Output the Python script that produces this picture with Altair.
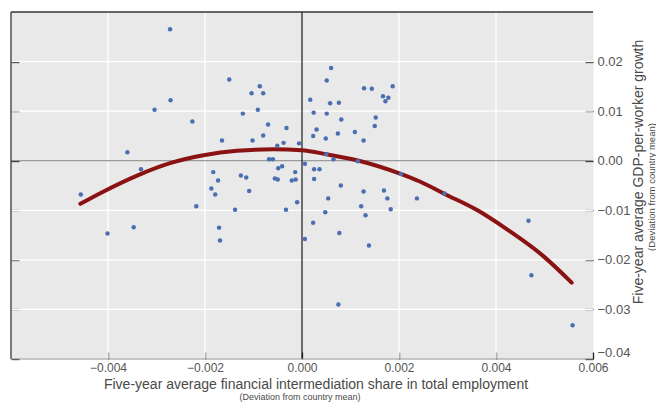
import altair as alt
import pandas as pd

# ---- data ----
share_dev = [
    -0.00272, -0.00150, -0.00087, -0.00104, -0.00080, -0.00271, -0.00304, -0.00091, -0.00122, -0.00226,
    -0.00070, -0.00032, -0.00080, -0.00165, -0.00102, -0.00038, -0.00051, -0.00006, -0.00360, -0.00068,
    -0.00060, 0.00006, -0.00332, -0.00049, -0.00041, -0.00183, -0.00014, -0.00126, -0.00115, -0.00173,
    -0.00056, -0.00050, -0.00021, -0.00013, -0.00187, -0.00109, -0.00179, -0.00456, -0.00218, -0.00138,
    -0.00033, -0.00010, -0.00171, -0.00169, 0.00006, -0.00401, -0.00347, 0.00060, 0.00051, 0.00128,
    0.00144, 0.00187, 0.00167, 0.00178, 0.00172, 0.00017, 0.00058, 0.00076, 0.00024, 0.00051,
    0.00152, 0.00081, 0.00150, 0.00030, 0.00109, 0.00074, 0.00023, 0.00049, 0.00127, 0.00050,
    0.00065, 0.00115, 0.00204, 0.00025, 0.00036, 0.00025, 0.00080, 0.00127, 0.00169, 0.00054,
    0.00176, 0.00122, 0.00183, 0.00048, 0.00131, 0.00023, 0.00077, 0.00138, 0.00237, 0.00294,
    0.00075, 0.00467, 0.00473, 0.00558,
]
growth_dev = [
    0.0265, 0.0164, 0.0150, 0.0136, 0.0136, 0.0122, 0.0103, 0.0103, 0.0095, 0.0079,
    0.0073, 0.0066, 0.0051, 0.0041, 0.0041, 0.0036, 0.0030, 0.0035, 0.0017, 0.0003,
    0.0003, -0.0006, -0.0017, -0.0015, -0.0011, -0.0023, -0.0023, -0.0030, -0.0034, -0.0040,
    -0.0036, -0.0038, -0.0040, -0.0038, -0.0056, -0.0061, -0.0068, -0.0068, -0.0092, -0.0099,
    -0.0099, -0.0084, -0.0135, -0.0161, -0.0158, -0.0147, -0.0134, 0.0187, 0.0162, 0.0146,
    0.0145, 0.0150, 0.0130, 0.0127, 0.0120, 0.0123, 0.0116, 0.0117, 0.0097, 0.0095,
    0.0087, 0.0083, 0.0070, 0.0063, 0.0058, 0.0055, 0.0050, 0.0045, 0.0041, 0.0013,
    0.0003, -0.0001, -0.0027, -0.0017, -0.0017, -0.0037, -0.0050, -0.0062, -0.0060, -0.0076,
    -0.0076, -0.0092, -0.0098, -0.0104, -0.0110, -0.0125, -0.0146, -0.0171, -0.0076, -0.0066,
    -0.0290, -0.0121, -0.0231, -0.0332,
]
fit_x = [-0.00457, -0.00409, -0.00340, -0.00272, -0.00203, -0.00134, -0.00059, -0.00001, 0.00051,
         0.00113, 0.00202, 0.00243, 0.00294, 0.00360, 0.00428, 0.00497, 0.00556]
fit_y = [-0.0087, -0.0062, -0.0030, -0.0005, 0.0011, 0.0020, 0.0023, 0.0021, 0.0013,
         0.0001, -0.0026, -0.0042, -0.0067, -0.0099, -0.0142, -0.0192, -0.0246]

x_ticks = [-0.004, -0.002, 0.0, 0.002, 0.004, 0.006]
y_ticks = [0.02, 0.01, 0.0, -0.01, -0.02, -0.03, -0.04]
x_grid = [-0.004, -0.002, 0.002, 0.004]
y_grid = [0.02, 0.01, -0.01, -0.02, -0.03]
zero_line = [0.0]

x_title = "Five-year average financial intermediation share in total employment"
y_title = "Five-year average GDP-per-worker growth"
sub_title = "(Deviation from country mean)"

# ---- chart ----
W, H = 582, 347
FONT = "Liberation Sans"
xs = alt.Scale(domain=[-0.006, 0.006], nice=False, zero=False)
ys = alt.Scale(domain=[-0.04, 0.03], nice=False, zero=False)

pts = pd.DataFrame({"x": share_dev, "y": growth_dev})
fit = pd.DataFrame({"x": fit_x, "y": fit_y})
one = pd.DataFrame({"a": [0]})

vgrid = alt.Chart(pd.DataFrame({"x": x_grid})).mark_rule(color="white", strokeWidth=1.3).encode(
    x=alt.X("x:Q", scale=xs, axis=None))
hgrid = alt.Chart(pd.DataFrame({"y": y_grid})).mark_rule(color="white", strokeWidth=1.3).encode(
    y=alt.Y("y:Q", scale=ys, axis=None))
zero_h = alt.Chart(pd.DataFrame({"y": zero_line})).mark_rule(color="#9c9c9c", strokeWidth=1.3).encode(
    y=alt.Y("y:Q", scale=ys, axis=None))
zero_v = alt.Chart(pd.DataFrame({"x": zero_line})).mark_rule(color="#1a1a1a", strokeWidth=1.2).encode(
    x=alt.X("x:Q", scale=xs, axis=None))

border_top = alt.Chart(one).mark_rule(color="#333333", strokeWidth=1.3).encode(
    x=alt.value(0), x2=alt.value(W), y=alt.value(0))
border_left = alt.Chart(one).mark_rule(color="#333333", strokeWidth=1.3).encode(
    x=alt.value(0), y=alt.value(0), y2=alt.value(H))
border_bottom = alt.Chart(one).mark_rule(color="#9a9a9a", strokeWidth=1).encode(
    x=alt.value(0), x2=alt.value(W), y=alt.value(H))

curve = alt.Chart(fit).mark_line(color="#8b1212", strokeWidth=4, strokeCap="round",
                                 interpolate="monotone").encode(
    x=alt.X("x:Q", scale=xs, axis=None),
    y=alt.Y("y:Q", scale=ys, axis=alt.Axis(
        orient="left", values=y_ticks, grid=False, domain=False, labels=False,
        ticks=True, tickSize=8, offset=-8, tickColor="#222222", tickWidth=1.3, title=None)),
)

points = alt.Chart(pts).mark_circle(size=20, color="#4a6fb0", opacity=1).encode(
    x=alt.X("x:Q", scale=xs, axis=alt.Axis(
        orient="bottom", values=x_ticks, format=".3f", grid=False, domain=False,
        ticks=True, tickSize=7, offset=-7, tickColor="#222222", tickWidth=1.3,
        labelPadding=3, labelFontSize=12, labelColor="#555555", labelFont=FONT,
        labelFlush=False, title=None)),
    y=alt.Y("y:Q", scale=ys, axis=alt.Axis(
        orient="right", values=y_ticks, format=".2f", grid=False, domain=False,
        ticks=True, tickSize=8, offset=-8, tickColor="#222222", tickWidth=1.3,
        labelPadding=4, labelFontSize=13, labelColor="#555555", labelFont=FONT,
        labelFlush=True, labelFlushOffset=0, title=None)),
)

t_x = alt.Chart(one).mark_text(text=x_title, font=FONT, fontSize=14, color="#4a4a4a",
                               align="center", baseline="alphabetic").encode(
    x=alt.value(305), y=alt.value(376.5))
t_xs = alt.Chart(one).mark_text(text=sub_title, font=FONT, fontSize=9, color="#4a4a4a",
                                align="center", baseline="alphabetic").encode(
    x=alt.value(289), y=alt.value(388))
t_y = alt.Chart(one).mark_text(text=y_title, font=FONT, fontSize=14, color="#4a4a4a",
                               align="center", baseline="alphabetic", angle=270).encode(
    x=alt.value(632), y=alt.value(160))
t_ys = alt.Chart(one).mark_text(text=sub_title, font=FONT, fontSize=9.5, color="#4a4a4a",
                                align="center", baseline="alphabetic", angle=270).encode(
    x=alt.value(643.5), y=alt.value(175))

chart = alt.layer(
    vgrid, hgrid, zero_h, zero_v, border_top, border_left, border_bottom,
    curve, points, t_x, t_xs, t_y, t_ys,
).resolve_axis(x="independent", y="independent").properties(
    width=W, height=H,
    autosize=alt.AutoSizeParams(type="none"),
    padding={"left": 3, "top": 4, "right": 63, "bottom": 43},
    background="white",
).configure_view(fill="#e9e9e9", stroke="transparent")

chart.save("out.html", embed_options={"renderer": "svg", "actions": False})
